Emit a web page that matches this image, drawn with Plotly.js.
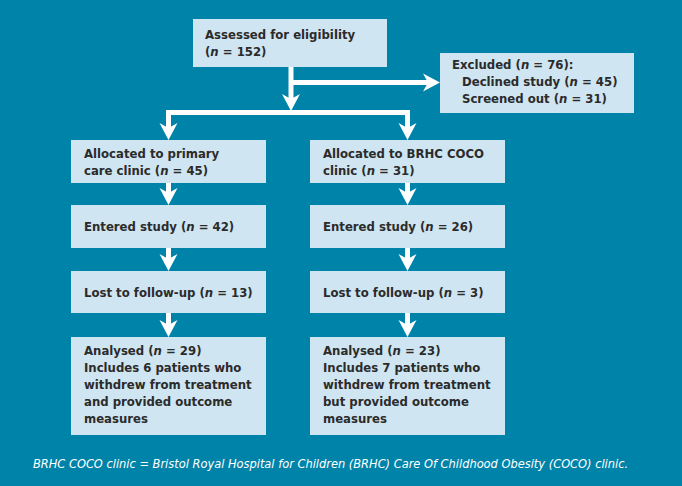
<!DOCTYPE html>
<html><head><meta charset="utf-8">
<script src="https://cdn.plot.ly/plotly-3.0.1.min.js"></script>
<style>html,body{margin:0;padding:0;background:#0083a9;overflow:hidden}</style>
</head><body><div id="chart" style="width:682px;height:486px"></div>
<script>
// ---- data ----
const assessedN = 152;
const excludedN = 76;
const exclusionReasons = ["Declined study", "Screened out"];
const exclusionCounts = [45, 31];
const allocatedLabels = ["Allocated to primary<br>care clinic", "Allocated to BRHC COCO<br>clinic"];
const allocatedN = [45, 31];
const enteredN = [42, 26];
const lostN = [13, 3];
const analysedN = [29, 23];
const withdrewN = [6, 7];
const withdrewConj = ["and", "but"];
const footnote = "BRHC COCO clinic = Bristol Royal Hospital for Children (BRHC) Care Of Childhood Obesity (COCO) clinic.";

// ---- geometry / style ----
const BG = "#0083a9", BOX = "#cfe5f1", TXT = "#2b2b2b", W = "#ffffff";
const FONT = "'DejaVu Sans Condensed', 'Liberation Sans Narrow', Roboto, sans-serif";
const colX = [[71, 266], [310, 505]];
const rowY = [[140, 183], [205, 248], [271, 313], [337, 435]];
const topBox = [193, 387, 19, 67];
const exclBox = [440, 634, 53, 113];
const LW = 5, HW = 9, HL = 17;

const nTxt = v => "(<i>n</i> = " + v + ")";
const shapes = [], annotations = [];

function box(x0, x1, y0, y1) {
  shapes.push({type: "rect", xref: "x", yref: "y", x0, x1, y0, y1, fillcolor: BOX, line: {width: 0}, layer: "below"});
}
function label(x, y, text, yanchor) {
  annotations.push({xref: "x", yref: "y", x, y, text, showarrow: false, xanchor: "left", yanchor: yanchor || "middle",
    align: "left", font: {family: FONT, size: 13, color: TXT, weight: "bold"}});
}
function line(x0, y0, x1, y1) {
  shapes.push({type: "line", xref: "x", yref: "y", x0, y0, x1, y1, line: {color: W, width: LW}});
}
function headDown(x, tip) {
  shapes.push({type: "path", xref: "x", yref: "y", fillcolor: W, line: {width: 0},
    path: `M ${x - HW} ${tip - HL} L ${x} ${tip - HL + 5} L ${x + HW} ${tip - HL} L ${x} ${tip} Z`});
}
function headRight(tip, y) {
  shapes.push({type: "path", xref: "x", yref: "y", fillcolor: W, line: {width: 0},
    path: `M ${tip - HL} ${y - HW} L ${tip - HL + 5} ${y} L ${tip - HL} ${y + HW} L ${tip} ${y} Z`});
}

// top box
box(...topBox);
label(topBox[0] + 10, (topBox[2] + topBox[3]) / 2, "Assessed for eligibility<br>" + nTxt(assessedN));
// excluded box
box(...exclBox);
label(exclBox[0] + 10, exclBox[2] + 2, "Excluded " + nTxt(excludedN) + ":", "top");
label(exclBox[0] + 20, exclBox[2] + 19,
  exclusionReasons.map((r, i) => r + " " + nTxt(exclusionCounts[i])).join("<br>"), "top");

// arrows from top
const cx = 291;
line(cx, topBox[3], cx, 100);
headDown(cx, 111);
line(cx, 82.5, exclBox[0] - 10, 82.5);
headRight(exclBox[0], 82.5);
const mids = colX.map(c => (c[0] + c[1]) / 2);
line(mids[0] - 2.5, 112.5, mids[1] + 2.5, 112.5);

colX.forEach((c, i) => {
  const m = mids[i];
  const texts = [
    allocatedLabels[i] + " " + nTxt(allocatedN[i]),
    "Entered study " + nTxt(enteredN[i]),
    "Lost to follow-up " + nTxt(lostN[i]),
    "Analysed " + nTxt(analysedN[i]) + "<br>Includes " + withdrewN[i] + " patients who<br>withdrew from treatment<br>" +
      withdrewConj[i] + " provided outcome<br>measures"
  ];
  line(m, 112.5, m, 130);
  headDown(m, rowY[0][0]);
  rowY.forEach((r, j) => {
    box(c[0], c[1], r[0], r[1]);
    if (j < 3) label(c[0] + 11, (r[0] + r[1]) / 2, texts[j]);
    else label(c[0] + 11, r[0] + 4, texts[j], "top");
    if (j > 0) {
      line(m, rowY[j - 1][1], m, r[0] - 10);
      headDown(m, r[0]);
    }
  });
});

annotations.push({xref: "x", yref: "y", x: 31, y: 463, text: "<i>" + footnote + "</i>", showarrow: false,
  xanchor: "left", yanchor: "middle", font: {family: FONT, size: 12.7, color: W}});

Plotly.newPlot("chart", [{type: "scatter", x: [], y: [], hoverinfo: "skip"}], {
  width: 682, height: 486, margin: {l: 0, r: 0, t: 0, b: 0},
  paper_bgcolor: BG, plot_bgcolor: BG, showlegend: false,
  xaxis: {range: [0, 682], visible: false, fixedrange: true},
  yaxis: {range: [486, 0], visible: false, fixedrange: true},
  shapes, annotations
}, {displayModeBar: false, staticPlot: true});
</script></body></html>
